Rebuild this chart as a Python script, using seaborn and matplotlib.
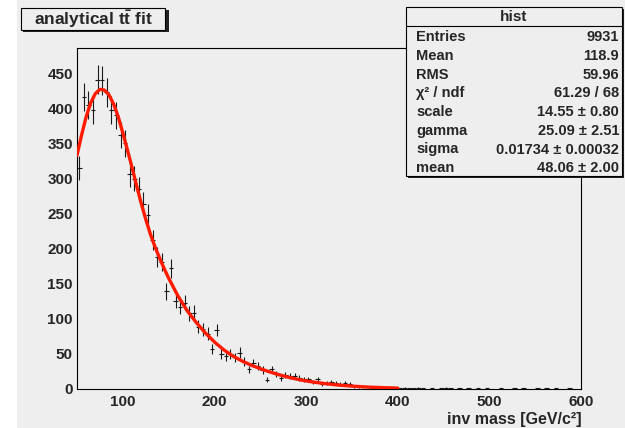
import numpy as np
import pandas as pd
import matplotlib
matplotlib.use("Agg")
import matplotlib.pyplot as plt
from matplotlib.patches import Rectangle
from matplotlib.lines import Line2D
from matplotlib.ticker import MultipleLocator
import seaborn as sns

# ---- histogram contents: 5 GeV bins from 50 to 600 GeV ----
bin_low = 50.0
bin_width = 5.0
counts = [
    315, 416, 405, 398, 441, 440, 423, 397, 390, 362, 350,
    306, 300, 285, 264, 248, 212, 188, 181, 139, 172,
    126, 117, 123, 108, 109, 89, 85, 79, 57, 84,
    50, 47, 50, 45, 52, 39, 28, 37, 33, 27, 13,
    28, 21, 15, 20, 19, 18, 16, 14, 14, 10, 14, 7, 9, 10,
    9, 7, 8, 7, 4, 4, 3, 3, 2, 2, 3, 2, 1, 2,
    1, 2, 1, 1, 2, 1, 0, 1, 0, 1, 2, 1, 0, 1, 0, 1, 0, 1, 0, 1,
    0, 0, 1, 0, 0, 1, 0, 1, 0, 0, 1, 0, 1, 0, 1, 0, 0, 1, 0, 0,
]

# ---- fitted function, sampled along the fit range ----
fit_mass = [50, 55, 60, 65, 70, 75, 80, 85, 90, 95, 100, 105, 110, 115, 120,
            125, 130, 135, 140, 145, 150, 160, 170, 180, 190, 200, 210, 220,
            230, 240, 250, 260, 270, 280, 290, 300, 310, 320, 330, 340, 350,
            360, 370, 380, 390, 400]
fit_value = [333, 362, 388, 408, 421, 427, 426, 419, 406, 388, 365, 341, 316,
             290, 265, 242, 221, 203, 187, 172, 158, 133, 112, 95, 80, 67, 56,
             47, 40, 34, 29, 24.5, 20.5, 17, 14, 11.5, 9.5, 7.8, 6.3, 5.1, 4.1,
             3.3, 2.6, 2.1, 1.7, 1.3]

# ---- statistics box ----
stat_title = "hist"
stat_labels = ["Entries", "Mean", "RMS", "χ² / ndf", "scale", "gamma", "sigma", "mean"]
stat_values = ["9931", "118.9", "59.96", "61.29 / 68", "14.55 ± 0.80",
               "25.09 ± 2.51", "0.01734 ± 0.00032", "48.06 ± 2.00"]

title_text = r"analytical t$\bar{\mathrm{t}}$ fit"
x_label = "inv mass [GeV/c²]"

x_ticks = [100, 200, 300, 400, 500, 600]
y_ticks = [0, 50, 100, 150, 200, 250, 300, 350, 400, 450]

# ---- style ----
sns.set_style("white")
plt.rcParams["font.family"] = ["Liberation Sans", "DejaVu Sans"]
plt.rcParams["font.weight"] = "bold"
plt.rcParams["mathtext.fontset"] = "custom"
plt.rcParams["mathtext.rm"] = "Liberation Sans:bold"
plt.rcParams["mathtext.bf"] = "Liberation Sans:bold"
plt.rcParams["mathtext.it"] = "Liberation Sans:bold"
plt.rcParams["mathtext.default"] = "rm"

BG = "#eeeeee"
W, H = 625, 428

fig = plt.figure(figsize=(W / 100, H / 100), dpi=100, facecolor="white")


def fx(px):
    return px / W


def fy(py):
    return 1 - py / H


# canvas fill
fig.patches.append(Rectangle((fx(17), 0), 1 - fx(17), 1, transform=fig.transFigure,
                             facecolor=BG, edgecolor="none", zorder=-10))

ax = fig.add_axes([fx(77), fy(389), fx(581) - fx(77), fy(48) - fy(389)])
ax.set_facecolor(BG)

df = pd.DataFrame({"count": counts})
df["center"] = bin_low + bin_width * (np.arange(len(df)) + 0.5)
df = df[df["count"] > 0]

ax.errorbar(df["center"], df["count"], yerr=np.sqrt(df["count"]),
            xerr=bin_width / 2, fmt="none", ecolor="#1a1a1a",
            elinewidth=0.8, capsize=0, zorder=2)

fit_df = pd.DataFrame({"mass": fit_mass, "value": fit_value})
sns.lineplot(data=fit_df, x="mass", y="value", color="#ff1a00", lw=2.4,
             ax=ax, zorder=3, legend=False)

ax.set_xlim(50, 600)
ax.set_ylim(0, 486)
ax.set_xticks(x_ticks)
ax.set_yticks(y_ticks)
ax.xaxis.set_minor_locator(MultipleLocator(20))
ax.yaxis.set_minor_locator(MultipleLocator(10))
ax.tick_params(axis="x", which="major", direction="in", length=7.2, width=0.7,
               pad=4, labelsize=11, top=False, color="black")
ax.tick_params(axis="x", which="minor", direction="in", length=3.6, width=0.7,
               top=False, color="black")
ax.tick_params(axis="y", which="major", direction="in", length=10.8, width=0.7,
               pad=3, labelsize=11, right=False, color="black")
ax.tick_params(axis="y", which="minor", direction="in", length=5.4, width=0.7,
               right=False, color="black")
for lab in ax.get_xticklabels() + ax.get_yticklabels():
    lab.set_fontweight("bold")
for sp in ax.spines.values():
    sp.set_visible(True)
    sp.set_color("black")
    sp.set_linewidth(0.8)
ax.set_xlabel("")
ax.set_ylabel("")

fig.text(fx(582), fy(427), x_label, ha="right", va="bottom", fontsize=11.5,
         fontweight="bold")

# title pave with shadow
fig.patches.append(Rectangle((fx(23), fy(32)), fx(167) - fx(21), fy(8) - fy(30),
                             transform=fig.transFigure, facecolor="#222222",
                             edgecolor="none", zorder=5))
fig.patches.append(Rectangle((fx(21), fy(30)), fx(165) - fx(21), fy(8) - fy(30),
                             transform=fig.transFigure, facecolor=BG,
                             edgecolor="black", linewidth=0.8, zorder=6))
fig.text(fx(93), fy(19.5), title_text, ha="center", va="center", fontsize=12.5,
         fontweight="bold", zorder=7)

# statistics pave with shadow
bx0, bx1, by0, by1 = 406, 622, 7, 176
fig.patches.append(Rectangle((fx(bx0 + 2), fy(by1 + 2)), fx(bx1) - fx(bx0), fy(by0) - fy(by1),
                             transform=fig.transFigure, facecolor="#222222",
                             edgecolor="none", zorder=5))
fig.patches.append(Rectangle((fx(bx0), fy(by1)), fx(bx1) - fx(bx0), fy(by0) - fy(by1),
                             transform=fig.transFigure, facecolor=BG,
                             edgecolor="black", linewidth=0.8, zorder=6))
fig.lines.append(Line2D([fx(bx0), fx(bx1)], [fy(26), fy(26)], transform=fig.transFigure,
                        color="black", lw=0.8, zorder=7))
fig.text(fx((bx0 + bx1) / 2), fy(17), stat_title, ha="center", va="center",
         fontsize=11, fontweight="bold", zorder=8)
row_y = [37, 56, 75, 93, 112.5, 131, 149.5, 168]
for yy, lab, val in zip(row_y, stat_labels, stat_values):
    fig.text(fx(416), fy(yy), lab, ha="left", va="center", fontsize=10.5,
             fontweight="bold", zorder=8)
    fig.text(fx(619), fy(yy), val, ha="right", va="center", fontsize=10.5,
             fontweight="bold", zorder=8)

fig.savefig("out.png", dpi=100, facecolor="white")
